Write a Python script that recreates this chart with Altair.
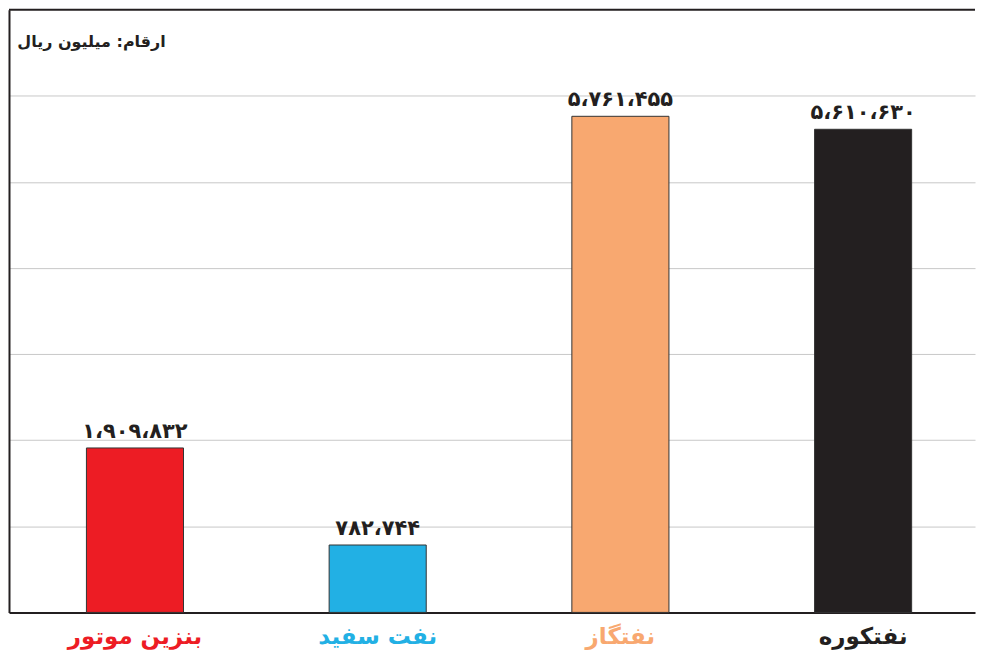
import altair as alt
import pandas as pd

categories = ["بنزین موتور", "نفت سفید", "نفتگاز", "نفتکوره"]
values = [1909832, 782744, 5761455, 5610630]
value_labels = ["۱،۹۰۹،۸۳۲", "۷۸۲،۷۴۴", "۵،۷۶۱،۴۵۵", "۵،۶۱۰،۶۳۰"]
colors = ["#ED1C24", "#22B0E4", "#F8A870", "#231F20"]
unit_note = "ارقام: میلیون ریال"

W, H = 968, 604
FONT = "DejaVu Sans"

df = pd.DataFrame({"cat": categories, "val": values, "lab": value_labels})

x = alt.X("cat:N", sort=categories,
          scale=alt.Scale(paddingInner=0.6, paddingOuter=0.29, align=0.55),
          axis=alt.Axis(labels=False, ticks=False, title=None, domain=True,
                        domainColor="#231F20", domainWidth=2, grid=False))
y = alt.Y("val:Q", scale=alt.Scale(domain=[0, 7000000], nice=False),
          axis=alt.Axis(labels=False, ticks=False, title=None, domain=True,
                        domainColor="#231F20", domainWidth=2,
                        values=[1000000, 2000000, 3000000, 4000000, 5000000, 6000000],
                        grid=True, gridColor="#C8C8C8", gridWidth=1))
color = alt.Color("cat:N", sort=categories,
                  scale=alt.Scale(domain=categories, range=colors), legend=None)

base = alt.Chart(df)

bars = base.mark_bar(stroke="#333333", strokeWidth=1).encode(x=x, y=y, color=color)

vals = base.mark_text(font=FONT, fontSize=21, fontWeight="bold", dy=-16,
                      color="#231F20").encode(
    x=alt.X("cat:N", sort=categories), y="val:Q", text="lab:N")

cat_labels = base.mark_text(font=FONT, fontSize=23, fontWeight="bold",
                            baseline="middle").encode(
    x=alt.X("cat:N", sort=categories), y=alt.value(H + 25), text="cat:N",
    color=color)

top_rule = alt.Chart(pd.DataFrame({"a": [0]})).mark_rule(
    color="#231F20", strokeWidth=2).encode(
    x=alt.value(0), x2=alt.value(W), y=alt.value(0))

note = alt.Chart(pd.DataFrame({"t": [unit_note]})).mark_text(
    font=FONT, fontSize=16, fontWeight="bold", align="right", baseline="middle",
    color="#231F20").encode(x=alt.value(157), y=alt.value(32), text="t:N")

chart = alt.layer(bars, vals, cat_labels, top_rule, note).properties(
    width=W, height=H, padding=0
).configure_view(stroke=None)

chart.save("out.html", embed_options={"renderer": "svg", "actions": False})
